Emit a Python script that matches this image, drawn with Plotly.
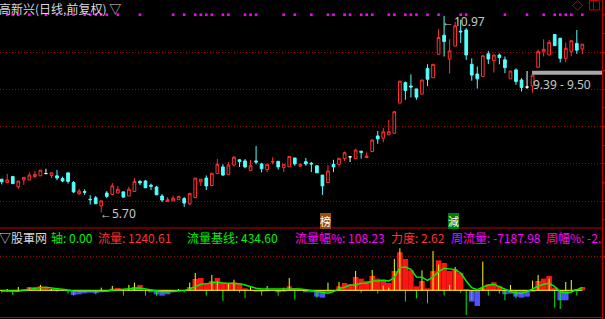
import plotly.graph_objects as go

W, H = 605, 319

# ---------------- data ----------------
open_ = [6.59, 6.50, 6.66, 6.39, 6.57, 6.57, 6.66, 6.68, 6.74, 6.69,
         6.68, 6.61, 6.76, 6.50, 6.20, 6.26, 6.05, 6.09, 5.87, 6.22,
         6.18, 6.22, 6.25, 6.14, 6.26, 6.53, 6.54, 6.43, 6.38, 6.14,
         5.99, 6.01, 6.04, 6.07, 5.93, 6.10, 6.52, 6.62, 6.42, 6.74,
         6.92, 6.71, 6.97, 7.11, 7.08, 6.82, 7.08, 7.00, 6.85, 7.05,
         7.07, 6.90, 6.92, 7.16, 6.94, 7.06, 7.02, 6.95, 6.70, 6.50,
         6.99, 6.99, 7.14, 7.19, 7.14, 7.34, 7.17, 7.33, 7.75, 7.69,
         7.78, 7.82, 8.63, 9.18, 9.09, 9.01, 8.87, 9.56, 9.31, 9.94,
         10.45, 9.81, 10.16, 10.56, 10.59, 9.67, 9.41, 9.34, 9.95, 9.77,
         9.92, 9.79, 9.28, 9.52, 9.25, 9.06, 9.09, 9.59, 10.00, 9.92,
         10.47, 10.37, 9.83, 10.01, 10.23, 10.08]
high = [6.59, 6.73, 6.68, 6.54, 6.64, 6.77, 6.81, 6.83, 6.87, 6.76,
        6.84, 6.66, 6.76, 6.54, 6.33, 6.32, 6.16, 6.14, 6.01, 6.27,
        6.49, 6.41, 6.25, 6.39, 6.62, 6.57, 6.57, 6.47, 6.41, 6.19,
        6.11, 6.15, 6.13, 6.11, 6.21, 6.62, 6.59, 6.69, 6.75, 7.13,
        6.99, 7.05, 7.21, 7.13, 7.13, 7.11, 7.48, 7.03, 6.99, 7.18,
        7.07, 6.99, 7.20, 7.16, 7.02, 7.16, 7.05, 6.95, 6.70, 6.97,
        7.11, 7.15, 7.33, 7.19, 7.41, 7.35, 7.31, 7.66, 7.88, 7.96,
        8.18, 8.40, 9.22, 9.21, 9.40, 9.01, 9.25, 9.67, 9.67, 10.62,
        10.97, 10.34, 10.81, 10.86, 10.64, 9.83, 9.61, 9.90, 10.03, 9.92,
        9.96, 9.88, 9.49, 9.56, 9.30, 9.49, 9.38, 10.07, 10.34, 10.32,
        10.47, 10.37, 10.25, 10.32, 10.59, 10.21]
low = [6.45, 6.50, 6.47, 6.33, 6.44, 6.57, 6.61, 6.68, 6.74, 6.62,
       6.56, 6.51, 6.47, 6.22, 6.16, 6.17, 5.91, 5.93, 5.70, 6.08,
       6.18, 6.22, 6.09, 6.14, 6.26, 6.43, 6.36, 6.30, 6.17, 5.98,
       5.99, 6.01, 6.04, 5.85, 5.89, 6.08, 6.41, 6.30, 6.42, 6.74,
       6.68, 6.71, 6.93, 6.92, 6.88, 6.82, 6.99, 6.77, 6.78, 6.99,
       6.85, 6.78, 6.92, 6.95, 6.92, 6.95, 6.78, 6.76, 6.17, 6.50,
       6.78, 6.93, 7.08, 7.05, 7.14, 7.14, 7.17, 7.33, 7.54, 7.58,
       7.78, 7.82, 8.63, 8.72, 8.78, 8.72, 8.87, 9.09, 9.31, 9.94,
       9.88, 9.42, 10.16, 10.24, 9.79, 9.23, 9.02, 9.34, 9.68, 9.45,
       9.67, 9.43, 9.28, 9.12, 8.94, 9.01, 8.91, 9.59, 9.88, 9.92,
       10.17, 9.72, 9.72, 9.88, 9.95, 9.94]
close = [6.52, 6.57, 6.47, 6.54, 6.64, 6.70, 6.72, 6.83, 6.74, 6.76,
         6.62, 6.54, 6.53, 6.25, 6.27, 6.24, 6.04, 5.93, 6.01, 6.13,
         6.41, 6.32, 6.11, 6.32, 6.53, 6.49, 6.36, 6.40, 6.17, 6.03,
         6.04, 6.08, 6.13, 5.95, 6.21, 6.62, 6.59, 6.41, 6.75, 6.99,
         6.70, 6.97, 7.18, 7.06, 6.92, 6.95, 7.05, 6.87, 6.99, 7.06,
         6.92, 6.99, 7.20, 7.00, 6.99, 7.00, 7.00, 6.76, 6.41, 6.81,
         6.92, 7.15, 7.30, 7.19, 7.37, 7.31, 7.21, 7.64, 7.67, 7.86,
         7.86, 8.40, 9.22, 8.97, 9.06, 8.79, 9.25, 9.27, 9.67, 10.39,
         10.28, 10.03, 10.70, 10.54, 9.92, 9.38, 9.28, 9.90, 9.81, 9.92,
         9.85, 9.58, 9.49, 9.21, 9.05, 9.06, 9.38, 10.01, 10.07, 10.26,
         10.17, 9.83, 10.10, 10.30, 10.05, 10.21]

# 股軍网 indicator (flow bars, spikes, baseline)
flow = [-1, 0, -2, 0, 3, 10, 10, 12, 8, 5,
        4, 0, -3, -14, -12, -9, -7, -9, -6, -5,
        5, 7, 0, 3, 10, 16, 0, -6, -12, -16,
        -12, -6, 0, -2, 10, 34, 37, 20, 28, 37,
        24, 19, 24, 21, 6, 2, -4, -4, -3, 0,
        -6, -4, 12, 6, 4, -6, -6, -19, -22, -6,
        -4, 12, 22, 18, 40, 35, 28, 43, 35, 32,
        22, 58, 114, 94, 60, 12, 28, 6, 58, 90,
        82, 58, 64, 52, 4, -34, -47, 8, 18, 24,
        12, -12, -10, -19, -22, -19, -4, 28, 35, 43,
        8, -30, -30, 0, 4, 10]
spike = [-7, 4, -14, 10, 0, 8, 0, 16, 0, 4,
         -4, 0, -10, -16, 0, 0, 0, -12, 8, 0,
         13, 0, -16, 16, 23, 0, -16, 0, -16, 0,
         0, 0, 4, -6, 23, 52, 0, -16, 46, 28,
         -32, 20, 32, -7, -24, 12, 0, -16, 13, 0,
         -16, 8, 37, -28, 0, 0, 0, -22, 0, 23,
         0, 25, 0, 0, 58, -7, 0, 61, -10, 14,
         8, 94, 126, -34, 0, -24, 60, -39, 118, 78,
         -16, 16, 70, -7, -74, -29, 0, 86, -16, 0,
         -10, -30, 16, -24, 0, 0, 29, 46, 0, 35,
         -52, -56, 25, 31, -16, 0]
baseline = [-2, -3, -4, -3, 0, 3, 6, 8, 9, 8,
            5, 3, 0, -2, -3, -3, -3, -3, -3, -2,
            0, 2, 2, 4, 6, 7, 4, 0, -3, -4,
            -4, -3, -2, -1, 4, 12, 18, 20, 22, 24,
            22, 22, 22, 20, 16, 10, 6, 4, 4, 4,
            3, 3, 5, 5, 4, 2, -1, -5, -8, -9,
            -4, 5, 9, 16, 16, 21, 21, 28, 28, 30,
            28, 38, 68, 70, 63, 40, 39, 30, 40, 56,
            66, 64, 62, 52, 28, 8, 2, 9, 16, 18,
            11, 4, -4, -8, -9, -4, 5, 12, 18, 21,
            11, -4, -8, -5, 2, 8]
axis_value = 0.0

signal_idx = [1, 2, 3, 5, 8, 10, 12, 13, 15, 16, 17, 18, 19, 21, 25, 31, 33, 35,
              36, 37, 38, 40, 41, 44, 45, 46, 51, 53, 56, 59, 60, 62, 63, 65, 66,
              67, 70, 71, 73, 74, 75, 77, 79, 83, 84, 91, 95, 98, 100, 101, 102,
              103, 105]

price_gridlines = [6, 7, 8, 9, 10]
price_minor = [5.5, 6.5, 7.5, 8.5, 9.5, 10.5, 11.0]
range_lo, range_hi = 9.39, 9.50
high_label, low_label = "10.97", "5.70"

header_texts = ["▽股軍网", "轴: 0.00", "流量: 1240.61", "流量基线: 434.60",
                "流量幅%: 108.23", "力度: 2.62", "周流量: -7187.98", "周幅%: -2."]
events = ["榜", "減"]

# ---------------- style ----------------
RED = "#FF3232"
BARRED = "#FF1414"
CYAN = "#54FFFF"
AXRED = "#C00000"
GRID = "#A00000"
GRAY = "#C8C8C8"
MAG = "#FF00FF"
GREEN = "#00F000"
YEL = "#FFFF00"
BLUE = "#5050FF"
CJK = "Noto Sans CJK SC"

n = len(close)
idx = list(range(n))
X_DOM = 602 / W
SPLIT = 1 - 228 / H
xmin = -1.7 / 5.53
xmax = (602 - 1.7) / 5.53

def px(x):
    return x / W

def py(y):
    return 1 - y / H

norm = [i for i in idx if open_[i] != close[i]]
doji = [i for i in idx if open_[i] == close[i]]

fig = go.Figure()
fig.add_trace(go.Candlestick(
    x=norm, open=[open_[i] for i in norm], high=[high[i] for i in norm],
    low=[low[i] for i in norm], close=[close[i] for i in norm],
    increasing=dict(line=dict(color=RED, width=1), fillcolor="black"),
    decreasing=dict(line=dict(color=CYAN, width=1), fillcolor=CYAN),
    whiskerwidth=0, xaxis="x", yaxis="y", hoverinfo="skip"))
fig.add_trace(go.Candlestick(
    x=doji, open=[open_[i] for i in doji], high=[high[i] for i in doji],
    low=[low[i] for i in doji], close=[close[i] for i in doji],
    increasing=dict(line=dict(color="white", width=1), fillcolor="white"),
    decreasing=dict(line=dict(color="white", width=1), fillcolor="white"),
    whiskerwidth=0, xaxis="x", yaxis="y", hoverinfo="skip"))
fig.add_trace(go.Scatter(
    x=signal_idx, y=[11.0] * len(signal_idx), mode="markers",
    marker=dict(symbol="square", size=2.6, color=MAG, line=dict(width=0)),
    xaxis="x", yaxis="y", hoverinfo="skip"))

# lower panel
fig.add_trace(go.Bar(
    x=idx, y=flow, width=1.0,
    marker=dict(color=[BARRED if v >= 0 else BLUE for v in flow], line=dict(width=0)),
    xaxis="x", yaxis="y2", hoverinfo="skip"))

def spikes(sel):
    xs, ys = [], []
    for i in idx:
        v = spike[i]
        if v != 0 and sel(v):
            xs += [i, i, None]
            ys += [0, v, None]
    return xs, ys

sx, sy = spikes(lambda v: v > 0)
fig.add_trace(go.Scatter(x=sx, y=sy, mode="lines", line=dict(color=YEL, width=1),
                         xaxis="x", yaxis="y2", hoverinfo="skip"))
sx, sy = spikes(lambda v: v < 0)
fig.add_trace(go.Scatter(x=sx, y=sy, mode="lines", line=dict(color=GREEN, width=1),
                         xaxis="x", yaxis="y2", hoverinfo="skip"))
fig.add_trace(go.Scatter(x=[-0.3] + idx, y=[axis_value] * (n + 1), mode="lines",
                         line=dict(color=YEL, width=1), xaxis="x", yaxis="y2",
                         hoverinfo="skip"))
fig.add_trace(go.Scatter(x=idx, y=baseline, mode="lines",
                         line=dict(color=GREEN, width=1.5), xaxis="x", yaxis="y2",
                         hoverinfo="skip"))

shapes = [
    dict(type="line", xref="paper", yref="paper", x0=0, x1=X_DOM, y0=SPLIT, y1=SPLIT,
         line=dict(color=AXRED, width=1)),
    dict(type="line", xref="paper", yref="paper", x0=0, x1=X_DOM, y0=py(317.5), y1=py(317.5),
         line=dict(color=AXRED, width=1)),
    dict(type="rect", xref="x", yref="y", x0=95.9, x1=xmax, y0=range_lo, y1=range_hi,
         fillcolor="#A8A8A8", line=dict(width=0)),
    # top-right icons
    dict(type="path", xref="paper", yref="paper",
         path=f"M {px(572.5)},{py(5.5)} L {px(577.5)},{py(0.8)} L {px(582.5)},{py(5.5)} L {px(577.5)},{py(10.2)} Z",
         line=dict(color=AXRED, width=1)),
    dict(type="rect", xref="paper", yref="paper", x0=px(589.5), x1=px(599.5), y0=py(10), y1=py(0.5),
         line=dict(color=AXRED, width=1)),
    dict(type="line", xref="paper", yref="paper", x0=px(593.5), x1=px(593.5), y0=py(10), y1=py(0.5),
         line=dict(color=AXRED, width=1)),
]

ann = []
def text(x, y, s, color, size=12, font=CJK, **kw):
    d = dict(xref="paper", yref="paper", x=px(x), y=py(y), text=s, showarrow=False,
             xanchor="left", yanchor="middle", font=dict(family=font, size=size, color=color),
             borderpad=0, borderwidth=0)
    d.update(kw)
    ann.append(d)

text(-1, 8.5, "高新兴(日线,前复权) ▽", "#D8D8D8")
text(100, 213, "←" + low_label, GRAY, font="Noto Sans")
text(442, 21, "←" + high_label, GRAY, font="Noto Sans")
text(533, 84, f"{range_lo:.2f} - {range_hi:.2f}", GRAY, font="Noto Sans")

hx = [-1, 51, 98, 187, 295, 391, 451, 546]
hc = ["#D8D8D8", GREEN, RED, GREEN, MAG, RED, MAG, MAG]
for x, s, c in zip(hx, header_texts, hc):
    text(x, 237, s, c)

ev_x = [58.55, 81.7]
ev_c = ["#9A4E12", "#008000"]
for s, x, c in zip(events, ev_x, ev_c):
    ann.append(dict(xref="x", yref="paper", x=x, y=py(220.5), text=s, showarrow=False,
                    xanchor="center", yanchor="middle",
                    font=dict(family=CJK, size=11, color="white"),
                    bgcolor=c, borderpad=0, borderwidth=0))

fig.update_layout(
    width=W, height=H, margin=dict(l=0, r=0, t=0, b=0),
    paper_bgcolor="black", plot_bgcolor="black",
    showlegend=False, hovermode=False, boxgap=0.3,
    shapes=shapes, annotations=ann,
    xaxis=dict(domain=[0, X_DOM], range=[xmin, xmax], visible=False,
               rangeslider=dict(visible=False), anchor="y2"),
    yaxis=dict(domain=[SPLIT, 1], range=[5.2815, 11.394], side="right", anchor="x",
               showline=True, linecolor=AXRED, linewidth=1, mirror=False,
               ticks="outside", ticklen=3, tickcolor=AXRED, tickvals=price_gridlines,
               showticklabels=False, showgrid=True, gridcolor=GRID, griddash="1px,2px",
               gridwidth=1, zeroline=False,
               minor=dict(ticks="outside", ticklen=3, tickcolor=AXRED,
                          tickvals=price_minor, showgrid=False)),
    yaxis2=dict(domain=[0, SPLIT], range=[-86.1, 186.9], side="right", anchor="x",
                showline=True, linecolor=AXRED, linewidth=1,
                ticks="outside", ticklen=3, tickcolor=AXRED, tickvals=[102],
                showticklabels=False, showgrid=True, gridcolor=GRID, griddash="1px,2px",
                gridwidth=1, zeroline=False),
)

fig.write_html("out.html", config={"displayModeBar": False, "staticPlot": True})
